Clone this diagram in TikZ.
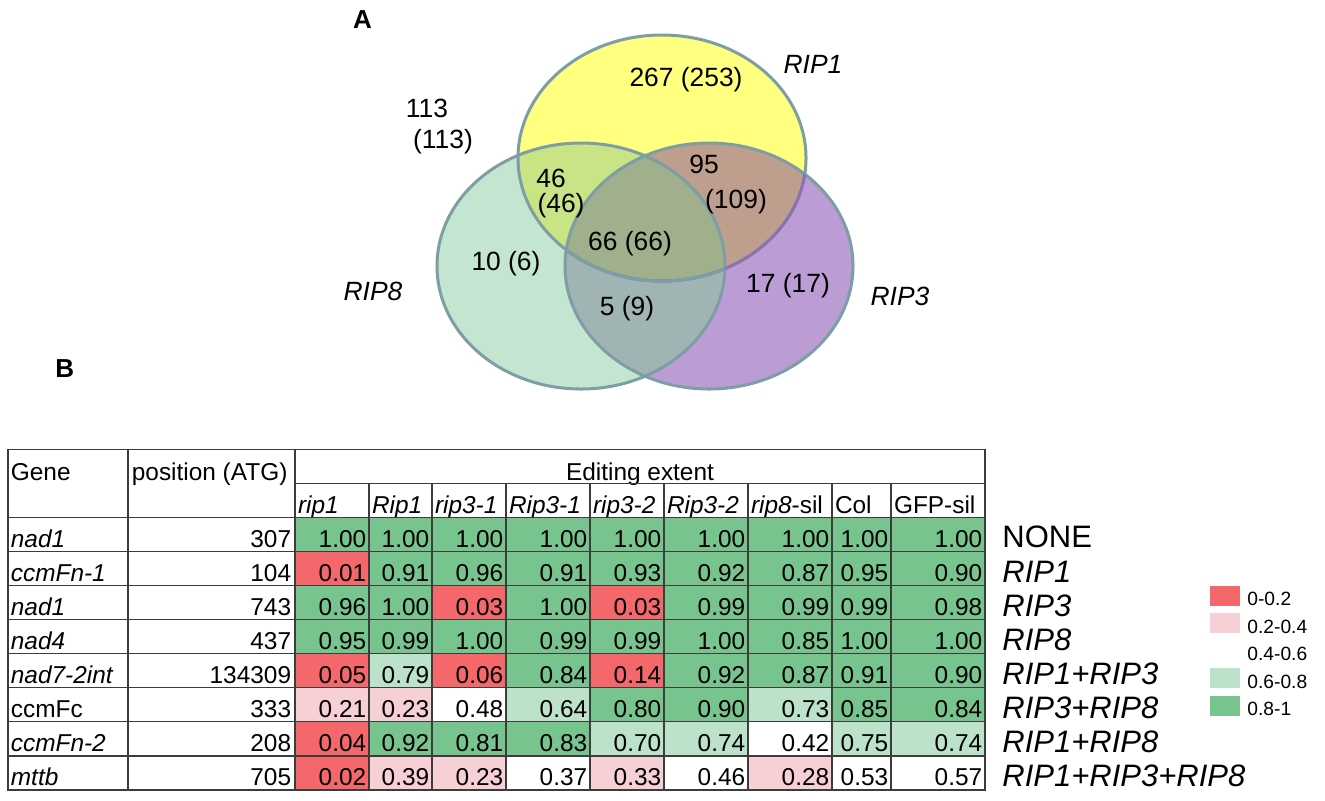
\documentclass[tikz,border=0pt]{standalone}
\usepackage{fontspec}
\setmainfont{Liberation Sans}
\definecolor{vY}{RGB}{255,255,128}
\definecolor{vG}{RGB}{196,230,208}
\definecolor{vP}{RGB}{187,156,212}
\definecolor{vYG}{RGB}{200,228,132}
\definecolor{vYP}{RGB}{190,158,140}
\definecolor{vGP}{RGB}{160,180,180}
\definecolor{vYGP}{RGB}{160,175,140}
\definecolor{vline}{RGB}{125,158,165}
\definecolor{vlineP}{RGB}{140,115,175}
\definecolor{cR}{RGB}{244,104,108}
\definecolor{cP}{RGB}{247,208,213}
\definecolor{cW}{RGB}{255,255,255}
\definecolor{cL}{RGB}{188,226,202}
\definecolor{cG}{RGB}{120,196,142}
\definecolor{tline}{RGB}{60,60,60}
\begin{document}
\begin{tikzpicture}[x=0.5pt,y=-0.5pt,
  vt/.style={font=\fontsize{13.2}{15}\selectfont,anchor=base,inner sep=0pt},
  lbl/.style={font=\fontsize{13}{15}\selectfont\bfseries,anchor=base west,inner sep=0pt},
  tt/.style={font=\fontsize{12.2}{14}\selectfont,inner sep=0pt},
  tl/.style={tt,anchor=base west},
  tr/.style={tt,anchor=base east},
  rl/.style={font=\fontsize{15.5}{18}\selectfont,anchor=base west,inner sep=0pt},
  lg/.style={font=\fontsize{9.6}{12}\selectfont,anchor=base west,inner sep=0pt},
  gridln/.style={draw=tline,line width=0.55pt},
  vring/.style={draw=vline,line width=1.5pt}
]
\useasboundingbox (0,0) rectangle (1325,800);
\fill[white] (0,0) rectangle (1325,800);

% ---------- panel labels ----------
\node[lbl] (labA) at (352.7,28.3) {A};
\node[lbl] (labB) at (55,377.3) {B};

% ---------- Venn diagram ----------
\def\EY{(662,158) ellipse [x radius=72pt,y radius=61.5pt]}
\def\EG{(581,266) ellipse [x radius=72pt,y radius=61.5pt]}
\def\EP{(709,266) ellipse [x radius=72pt,y radius=61.5pt]}
\fill[vY] \EY;
\fill[vG] \EG;
\fill[vP] \EP;
\begin{scope}\clip \EY; \fill[vYG] \EG; \fill[vYP] \EP; \end{scope}
\begin{scope}\clip \EG; \fill[vGP] \EP; \end{scope}
\begin{scope}\clip \EY; \clip \EG; \fill[vYGP] \EP; \end{scope}
\draw[vring] \EY;
\draw[vring] \EG;
\draw[vring] \EP;
\begin{scope}\clip \EP; \draw[vring,draw=vlineP] \EY; \end{scope}
\begin{scope}\clip \EG; \clip \EP; \draw[vring] \EY; \end{scope}

\node[vt] (n113)  at (427,117)   {113};
\node[vt] (n113b) at (443,148.5) {(113)};
\node[vt] (n267)  at (686,86)    {267 (253)};
\node[vt] (lRIP1) at (813,73)    {\textit{RIP1}};
\node[vt] (n46)   at (551,187)   {46};
\node[vt] (n46b)  at (561,212.5) {(46)};
\node[vt] (n95)   at (704,173)   {95};
\node[vt] (n109)  at (736,208.5) {(109)};
\node[vt] (n66)   at (630,250)   {66 (66)};
\node[vt] (n10)   at (506,270)   {10 (6)};
\node[vt] (lRIP8) at (373,300)   {\textit{RIP8}};
\node[vt] (n5)    at (627,315)   {5 (9)};
\node[vt] (n17)   at (788,292.5) {17 (17)};
\node[vt] (lRIP3) at (900,305)   {\textit{RIP3}};

% ---------- table ----------
\def\cx{{8,128,295,369,432,506,590,664,748,832,891,985}}
\foreach \i/\g/\p/\lab/\vals in {
 1/\textit{nad1}/307/NONE/{1.00/G,1.00/G,1.00/G,1.00/G,1.00/G,1.00/G,1.00/G,1.00/G,1.00/G},
 2/\textit{ccmFn-1}/104/\textit{RIP1}/{0.01/R,0.91/G,0.96/G,0.91/G,0.93/G,0.92/G,0.87/G,0.95/G,0.90/G},
 3/\textit{nad1}/743/\textit{RIP3}/{0.96/G,1.00/G,0.03/R,1.00/G,0.03/R,0.99/G,0.99/G,0.99/G,0.98/G},
 4/\textit{nad4}/437/\textit{RIP8}/{0.95/G,0.99/G,1.00/G,0.99/G,0.99/G,1.00/G,0.85/G,1.00/G,1.00/G},
 5/\textit{nad7-2int}/134309/\textit{RIP1+RIP3}/{0.05/R,0.79/L,0.06/R,0.84/G,0.14/R,0.92/G,0.87/G,0.91/G,0.90/G},
 6/ccmFc/333/\textit{RIP3+RIP8}/{0.21/P,0.23/P,0.48/W,0.64/L,0.80/G,0.90/G,0.73/L,0.85/G,0.84/G},
 7/\textit{ccmFn-2}/208/\textit{RIP1+RIP8}/{0.04/R,0.92/G,0.81/G,0.83/G,0.70/L,0.74/L,0.42/W,0.75/L,0.74/L},
 8/\textit{mttb}/705/\textit{RIP1+RIP3+RIP8}/{0.02/R,0.39/P,0.23/P,0.37/W,0.33/P,0.46/W,0.28/P,0.53/W,0.57/W}}{
  \pgfmathsetmacro\ytop{517.5+34.0625*(\i-1)}
  \pgfmathsetmacro\ybot{\ytop+34.0625}
  \node[tl] (g\i) at (10.5,\ybot-4.3) {\g};
  \node[tr] (p\i) at (291.5,\ybot-4.3) {\p};
  \node[rl] (r\i) at (1002,\ybot-3.6) {\lab};
  \foreach \v/\c [count=\j] in \vals {
    \pgfmathsetmacro\xl{\cx[\j+1]}
    \pgfmathsetmacro\xr{\cx[\j+2]}
    \fill[c\c] (\xl,\ytop) rectangle (\xr,\ybot);
    \node[tr] (v\i-\j) at (\xr-2.4,\ybot-4.3) {\v};
  }
}

% header texts
\node[tl] (hGene) at (10.5,480) {Gene};
\node[tl] (hPos)  at (131.5,480) {position (ATG)};
\node[tt,anchor=base] (hEd) at (640,480) {Editing extent};
\foreach \h [count=\j] in {\textit{rip1},\textit{Rip1},\textit{rip3-1},\textit{Rip3-1},\textit{rip3-2},\textit{Rip3-2},\textit{rip8}-sil,Col,GFP-sil}{
  \pgfmathsetmacro\xl{\cx[\j+1]}
  \node[tl] (h\j) at (\xl+2.6,513.4) {\h};
}

% grid lines
\draw[gridln] (8,449.5) rectangle (985,790);
\draw[gridln] (295,483.5) -- (985,483.5);
\foreach \k in {0,...,7}{
  \draw[gridln] (8,517.5+34.0625*\k) -- (985,517.5+34.0625*\k);
}
\draw[gridln] (128,449.5) -- (128,790);
\draw[gridln] (295,449.5) -- (295,790);
\foreach \xx in {369,432,506,590,664,748,832,891}{
  \draw[gridln] (\xx,483.5) -- (\xx,790);
}

% ---------- legend ----------
\fill[cR] (1210,586) rectangle (1240,606);
\fill[cP] (1210,613.4) rectangle (1240,633.4);
\fill[cL] (1210,668.3) rectangle (1240,688.3);
\fill[cG] (1210,695.6) rectangle (1240,715.6);
\node[lg] (lg1) at (1247,605.7) {0-0.2};
\node[lg] (lg2) at (1247,633.1) {0.2-0.4};
\node[lg] (lg3) at (1247,660.6) {0.4-0.6};
\node[lg] (lg4) at (1247,688.1) {0.6-0.8};
\node[lg] (lg5) at (1247,715.5) {0.8-1};
\end{tikzpicture}
\end{document}
